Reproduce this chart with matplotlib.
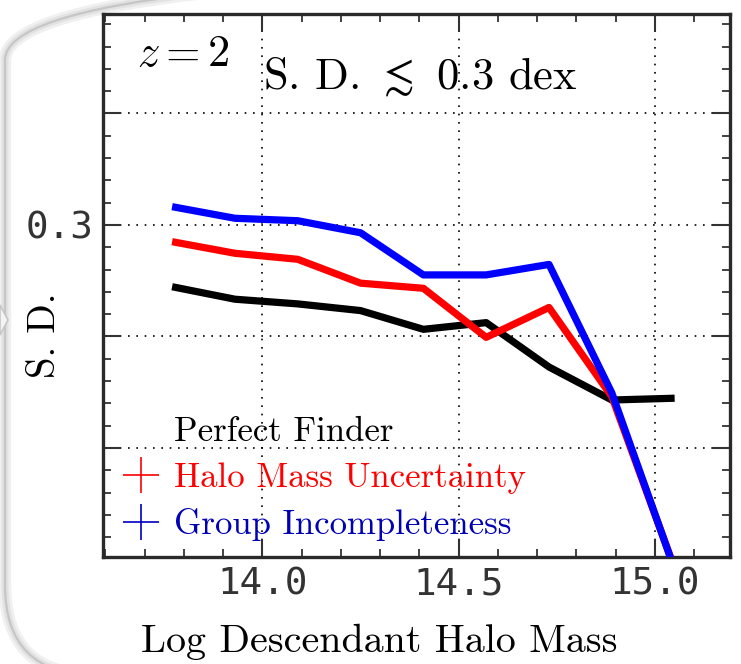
import numpy as np
import matplotlib
matplotlib.use('Agg')
import matplotlib.pyplot as plt
from matplotlib.lines import Line2D
from matplotlib.patches import FancyBboxPatch, Polygon
from matplotlib.transforms import IdentityTransform

plt.rcParams['mathtext.fontset'] = 'cm'
plt.rcParams['font.family'] = 'cmr10'
plt.rcParams['axes.formatter.use_mathtext'] = True

# Data
mass = np.array([13.77, 13.93, 14.09, 14.25, 14.41, 14.57, 14.73, 14.89, 15.05])
sd_perfect = np.array([0.2723, 0.2667, 0.2646, 0.2616, 0.2532, 0.2562, 0.2363, 0.2215, 0.2223])
sd_halo_mass = np.array([0.2925, 0.2873, 0.2846, 0.2739, 0.2716, 0.2496, 0.2630, 0.2230, 0.1460])
sd_group = np.array([0.3082, 0.3030, 0.3019, 0.2965, 0.2776, 0.2776, 0.2823, 0.2247, 0.1455])
series_labels = ['Perfect Finder', 'Halo Mass Uncertainty', 'Group Incompleteness']
ytick_vals = [0.2, 0.25, 0.3, 0.35]
ytick_labels = ['', '', '0.3', '']
xtick_vals = [14.0, 14.5, 15.0]

fig = plt.figure(figsize=(7.41, 6.64), dpi=100)

# rounded slide frame behind the plot
for lw, col in [(9, '#f0f0f0'), (5, '#e2e2e2'), (1.6, '#c6c6c6')]:
    frame = FancyBboxPatch((5, -11), 900, 705, boxstyle='round,pad=0,rounding_size=90',
                           transform=IdentityTransform(), facecolor='none',
                           edgecolor=col, linewidth=lw, zorder=0)
    fig.add_artist(frame)
notch = Polygon([(0, 359), (8, 344), (0, 329)], closed=True, transform=IdentityTransform(),
                facecolor='#f4f4f4', edgecolor='#c6c6c6', linewidth=1.2, zorder=0)
fig.add_artist(notch)

ax = fig.add_axes([103 / 741, 107 / 664, 627 / 741, 543 / 664])

ax.plot(mass, sd_perfect, color='black', lw=5.2, solid_capstyle='butt', zorder=3)
ax.plot(mass, sd_halo_mass, color='red', lw=5.2, solid_capstyle='butt', zorder=4)
ax.plot(mass, sd_group, color='blue', lw=5.2, solid_capstyle='butt', zorder=5)

ax.set_xlim(13.594, 15.191)
ax.set_ylim(0.1511, 0.3946)
ax.set_xticks(xtick_vals)
ax.set_xticks(np.arange(13.6, 15.2, 0.1), minor=True)
ax.set_yticks(ytick_vals)
ax.set_yticklabels(ytick_labels)
ax.set_yticks(np.arange(0.16, 0.395, 0.01), minor=True)
ax.set_xticklabels(['%.1f' % v for v in xtick_vals])

ax.tick_params(which='both', direction='in', top=True, right=True, color='#333333')
ax.tick_params(which='major', length=12, width=1.5, labelsize=27, labelcolor='#333333', pad=7)
ax.tick_params(which='minor', length=6, width=1.3)
for lab in ax.get_xticklabels() + ax.get_yticklabels():
    lab.set_fontfamily('DejaVu Sans Mono')
for sp in ax.spines.values():
    sp.set_linewidth(2.4)
    sp.set_color('#2a2a2a')

ax.grid(True, which='major', linestyle=(0, (1, 4)), color='black', linewidth=1.2)

ax.set_xlabel('Log Descendant Halo Mass', fontsize=28.8, labelpad=15)
ax.xaxis.label.set_x(0.44)
ax.set_ylabel('S. D.', fontsize=28)
ax.yaxis.set_label_coords(-0.064, 0.409)

ax.text(0.054, 0.9245, r'$z=2$', transform=ax.transAxes, fontsize=32, ha='left', va='center')
ax.text(0.255, 0.884, r'S. D. $\lesssim$ 0.3 dex', transform=ax.transAxes, fontsize=32,
        ha='left', va='center')

handles = [
    Line2D([], [], color='white', marker='+', linestyle='none', markersize=26, markeredgewidth=1.2),
    Line2D([], [], color='red', marker='+', linestyle='none', markersize=26, markeredgewidth=1.2),
    Line2D([], [], color='#0000c0', marker='+', linestyle='none', markersize=26, markeredgewidth=1.2),
]
ax.legend(handles, series_labels, loc='lower left', bbox_to_anchor=(0.0327, 0.03),
          frameon=False, fontsize=25, borderpad=0, borderaxespad=0, handlelength=1.0,
          handletextpad=0.45, labelspacing=0.4, labelcolor=['black', 'red', '#0000b4'])

fig.savefig('out.png', dpi=100)
